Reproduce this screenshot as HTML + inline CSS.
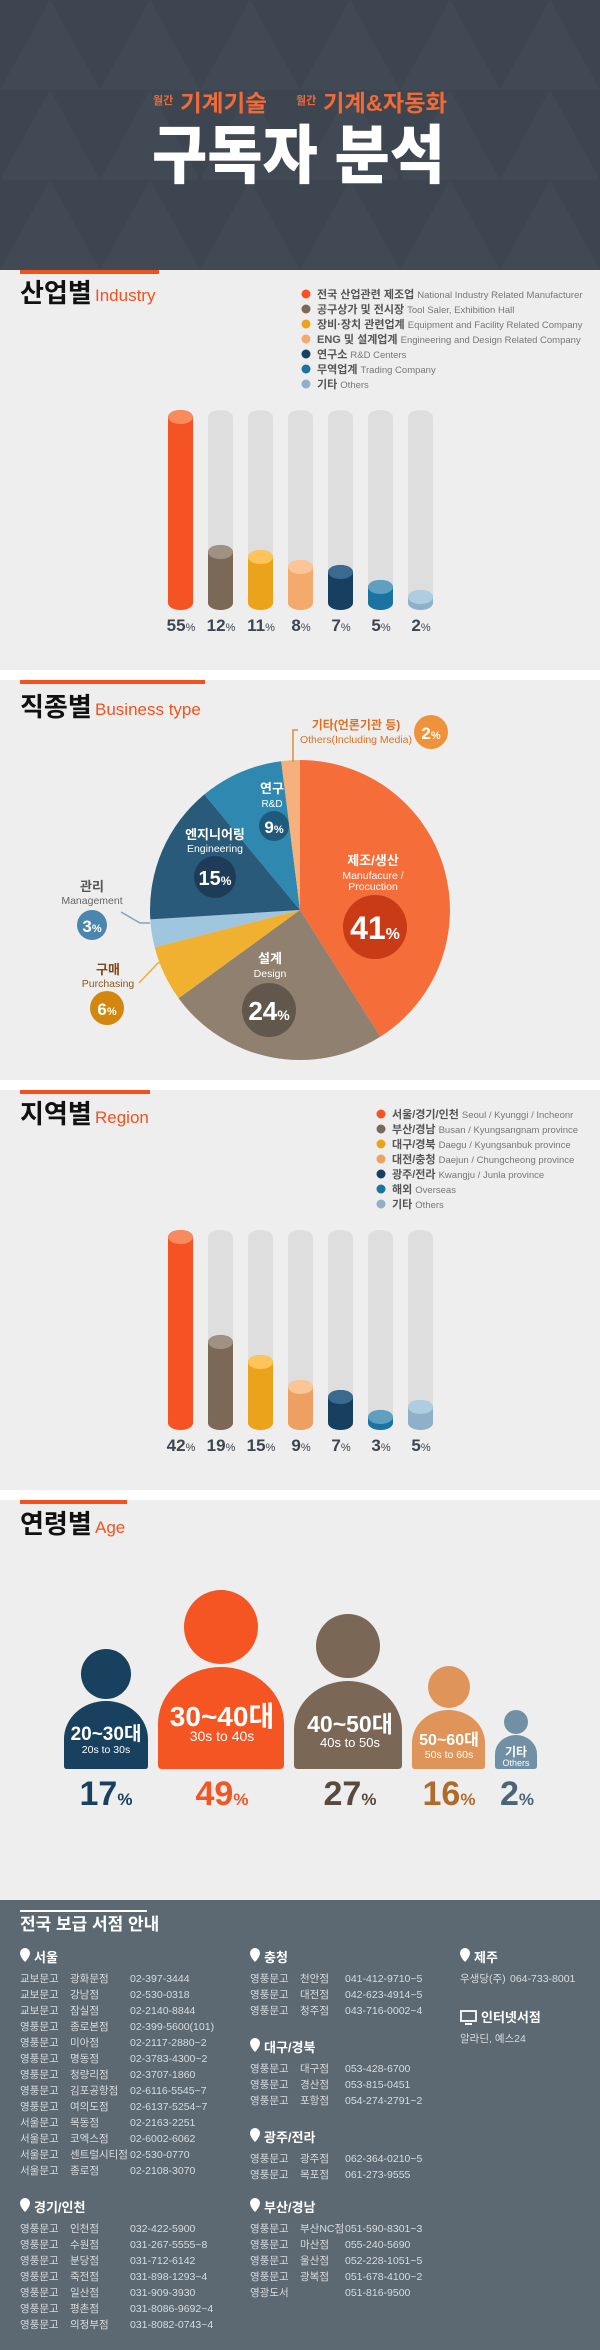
<!DOCTYPE html>
<html><head><meta charset="utf-8"><style>
html,body{margin:0;padding:0;background:#eee}
svg{display:block}
text{font-family:"Liberation Sans","Noto Sans CJK KR",sans-serif}
.n{font-family:"Liberation Sans Narrow","Liberation Sans","Noto Sans CJK KR",sans-serif;font-weight:bold}
</style></head><body>
<svg width="600" height="2350" viewBox="0 0 600 2350" xmlns="http://www.w3.org/2000/svg">
<defs>
<pattern id="tri" width="100" height="90" patternUnits="userSpaceOnUse">
<rect width="100" height="90" fill="#3d4550"/>
<polygon points="0,90 50,0 100,90" fill="#414954"/>
</pattern>
<path id="pin" d="M-5,0 a5,5 0 0 1 10,0 c0,4 -5,9 -5,9 c0,0 -5,-5 -5,-9z" fill="#fff"/>
</defs>
<!-- header -->
<rect x="0" y="0" width="600" height="270" fill="url(#tri)"/>
<text x="153" y="104" font-size="11" font-weight="bold" fill="#f26a35">월간</text>
<text x="180" y="111" font-size="23" font-weight="bold" fill="#f26a35" textLength="87" lengthAdjust="spacingAndGlyphs">기계기술</text>
<text x="296" y="104" font-size="11" font-weight="bold" fill="#f26a35">월간</text>
<text x="323" y="111" font-size="23" font-weight="bold" fill="#f26a35" textLength="124" lengthAdjust="spacingAndGlyphs">기계&amp;자동화</text>
<text x="152" y="178" font-size="64" font-weight="900" fill="#fff" textLength="293" lengthAdjust="spacingAndGlyphs">구독자 분석</text>

<!-- section 1 -->
<rect x="0" y="270" width="600" height="400" fill="#eee"/>
<rect x="20" y="270" width="139" height="4" fill="#f4511e"/>
<text x="20" y="302" font-size="26" font-weight="bold" fill="#111">산업별</text>
<text x="95" y="301" font-size="17" fill="#f4511e">Industry</text>
<g font-size="11">
<circle cx="306" cy="294" r="4.5" fill="#f55323"/><text x="317" y="298" font-weight="bold" fill="#555">전국 산업관련 제조업 <tspan font-weight="normal" font-size="9.5" fill="#777">National Industry Related Manufacturer</tspan></text>
<circle cx="306" cy="309" r="4.5" fill="#7b6856"/><text x="317" y="313" font-weight="bold" fill="#555">공구상가 및 전시장 <tspan font-weight="normal" font-size="9.5" fill="#777">Tool Saler, Exhibition Hall</tspan></text>
<circle cx="306" cy="324" r="4.5" fill="#eca31c"/><text x="317" y="328" font-weight="bold" fill="#555">장비·장치 관련업계 <tspan font-weight="normal" font-size="9.5" fill="#777">Equipment and Facility Related Company</tspan></text>
<circle cx="306" cy="339" r="4.5" fill="#f4a96d"/><text x="317" y="343" font-weight="bold" fill="#555">ENG 및 설계업계 <tspan font-weight="normal" font-size="9.5" fill="#777">Engineering and Design Related Company</tspan></text>
<circle cx="306" cy="354" r="4.5" fill="#163f60"/><text x="317" y="358" font-weight="bold" fill="#555">연구소 <tspan font-weight="normal" font-size="9.5" fill="#777">R&amp;D Centers</tspan></text>
<circle cx="306" cy="369" r="4.5" fill="#1a73a0"/><text x="317" y="373" font-weight="bold" fill="#555">무역업계 <tspan font-weight="normal" font-size="9.5" fill="#777">Trading Company</tspan></text>
<circle cx="306" cy="384" r="4.5" fill="#8fb0c8"/><text x="317" y="388" font-weight="bold" fill="#555">기타 <tspan font-weight="normal" font-size="9.5" fill="#777">Others</tspan></text>
</g>
<g>
<rect x="168" y="410" width="25" height="200" rx="12.5" ry="7" fill="#f55323"/><ellipse cx="180.5" cy="417" rx="12.5" ry="7" fill="#f88a5e"/>
<rect x="208" y="410" width="25" height="200" rx="12.5" ry="7" fill="#dedede"/><rect x="208" y="545" width="25" height="65" rx="12.5" ry="7" fill="#7b6856"/><ellipse cx="220.5" cy="552" rx="12.5" ry="7" fill="#a09283"/>
<rect x="248" y="410" width="25" height="200" rx="12.5" ry="7" fill="#dedede"/><rect x="248" y="550" width="25" height="60" rx="12.5" ry="7" fill="#eca31c"/><ellipse cx="260.5" cy="557" rx="12.5" ry="7" fill="#fdc45a"/>
<rect x="288" y="410" width="25" height="200" rx="12.5" ry="7" fill="#dedede"/><rect x="288" y="560" width="25" height="50" rx="12.5" ry="7" fill="#f4a96d"/><ellipse cx="300.5" cy="567" rx="12.5" ry="7" fill="#fcc595"/>
<rect x="328" y="410" width="25" height="200" rx="12.5" ry="7" fill="#dedede"/><rect x="328" y="565" width="25" height="45" rx="12.5" ry="7" fill="#163f60"/><ellipse cx="340.5" cy="572" rx="12.5" ry="7" fill="#3a6a90"/>
<rect x="368" y="410" width="25" height="200" rx="12.5" ry="7" fill="#dedede"/><rect x="368" y="580" width="25" height="30" rx="12.5" ry="7" fill="#1a73a0"/><ellipse cx="380.5" cy="587" rx="12.5" ry="7" fill="#5fa0c0"/>
<rect x="408" y="410" width="25" height="200" rx="12.5" ry="7" fill="#dedede"/><rect x="408" y="590" width="25" height="20" rx="12.5" ry="7" fill="#8fb0c8"/><ellipse cx="420.5" cy="597" rx="12.5" ry="7" fill="#aecde0"/>
</g>
<g class="n" font-size="17" fill="#3d4550" text-anchor="middle">
<text x="181" y="631">55<tspan font-size="11" font-weight="normal">%</tspan></text>
<text x="221" y="631">12<tspan font-size="11" font-weight="normal">%</tspan></text>
<text x="261" y="631">11<tspan font-size="11" font-weight="normal">%</tspan></text>
<text x="301" y="631">8<tspan font-size="11" font-weight="normal">%</tspan></text>
<text x="341" y="631">7<tspan font-size="11" font-weight="normal">%</tspan></text>
<text x="381" y="631">5<tspan font-size="11" font-weight="normal">%</tspan></text>
<text x="421" y="631">2<tspan font-size="11" font-weight="normal">%</tspan></text>
</g>
<rect x="0" y="670" width="600" height="10" fill="#fff"/>

<!-- section 2 -->
<rect x="0" y="680" width="600" height="400" fill="#eee"/>
<rect x="20" y="680" width="185" height="4" fill="#f4511e"/>
<text x="20" y="716" font-size="26" font-weight="bold" fill="#111">직종별</text>
<text x="95" y="715" font-size="17" fill="#f4511e">Business type</text>
<g transform="translate(300,910)">
<path d="M0,0 L0,-150 A150,150 0 0 1 80.4,126.6 Z" fill="#f56e3a"/>
<path d="M0,0 L80.4,126.6 A150,150 0 0 1 -121.4,88.2 Z" fill="#8f8070"/>
<path d="M0,0 L-121.4,88.2 A150,150 0 0 1 -145.3,37.3 Z" fill="#efb12f"/>
<path d="M0,0 L-145.3,37.3 A150,150 0 0 1 -149.7,9.4 Z" fill="#9fc5df"/>
<path d="M0,0 L-149.7,9.4 A150,150 0 0 1 -95.6,-115.6 Z" fill="#2a5a7a"/>
<path d="M0,0 L-95.6,-115.6 A150,150 0 0 1 -18.8,-148.8 Z" fill="#2e88b0"/>
<path d="M0,0 L-18.8,-148.8 A150,150 0 0 1 0,-150 Z" fill="#f6b07b"/>
</g>
<g text-anchor="middle">
<text x="373" y="865" font-size="13" font-weight="bold" fill="#fff">제조/생산</text>
<text x="373" y="879" font-size="10.5" fill="#fff">Manufacure /</text>
<text x="373" y="890" font-size="10.5" fill="#fff">Procuction</text>
<circle cx="375" cy="927" r="32" fill="#c93a17"/>
<text x="375" y="939" class="n" font-size="32" fill="#fff">41<tspan font-size="16">%</tspan></text>
<text x="270" y="963" font-size="13" font-weight="bold" fill="#fff">설계</text>
<text x="270" y="977" font-size="10.5" fill="#fff">Design</text>
<circle cx="269" cy="1010" r="27" fill="#62574c"/>
<text x="269" y="1020" class="n" font-size="26" fill="#fff">24<tspan font-size="14">%</tspan></text>
<text x="215" y="839" font-size="13" font-weight="bold" fill="#fff">엔지니어링</text>
<text x="215" y="852" font-size="10.5" fill="#fff">Engineering</text>
<circle cx="215" cy="877" r="21" fill="#1e3c58"/>
<text x="215" y="885" class="n" font-size="20" fill="#fff">15<tspan font-size="12">%</tspan></text>
<text x="272" y="793" font-size="13" font-weight="bold" fill="#fff">연구</text>
<text x="272" y="807" font-size="10" fill="#fff">R&amp;D</text>
<circle cx="274" cy="826" r="15" fill="#1f5a7c"/>
<text x="274" y="833" class="n" font-size="17" fill="#fff">9<tspan font-size="11">%</tspan></text>
<text x="92" y="891" font-size="13" font-weight="bold" fill="#555">관리</text>
<text x="92" y="904" font-size="10.5" fill="#666">Management</text>
<circle cx="92" cy="925" r="15" fill="#4a86ae"/>
<text x="92" y="932" class="n" font-size="17" fill="#fff">3<tspan font-size="11">%</tspan></text>
<text x="108" y="974" font-size="13" font-weight="bold" fill="#7a4a18">구매</text>
<text x="108" y="987" font-size="10.5" fill="#8a5a20">Purchasing</text>
<circle cx="107" cy="1008" r="17" fill="#d4870f"/>
<text x="107" y="1015" class="n" font-size="17" fill="#fff">6<tspan font-size="11">%</tspan></text>
<text x="356" y="729" font-size="12" font-weight="bold" fill="#e07020">기타(언론기관 등)</text>
<text x="356" y="743" font-size="10.5" fill="#e07020">Others(Including Media)</text>
<circle cx="431" cy="732" r="17" fill="#f0923a"/>
<text x="431" y="739" class="n" font-size="17" fill="#fff">2<tspan font-size="11">%</tspan></text>
</g>
<polyline points="121,912 140,923 150,923" fill="none" stroke="#7fa6c2" stroke-width="1.5"/>
<polyline points="139,983 158,963 165,962" fill="none" stroke="#efb12f" stroke-width="1.5"/>
<polyline points="293,762 293,730 298,730" fill="none" stroke="#e08a3a" stroke-width="1.5"/>
<rect x="0" y="1080" width="600" height="10" fill="#fff"/>

<!-- section 3 -->
<rect x="0" y="1090" width="600" height="400" fill="#eee"/>
<rect x="20" y="1090" width="130" height="4" fill="#f4511e"/>
<text x="20" y="1123" font-size="26" font-weight="bold" fill="#111">지역별</text>
<text x="95" y="1123" font-size="17" fill="#f4511e">Region</text>
<g font-size="11">
<circle cx="381" cy="1114" r="4.5" fill="#f55323"/><text x="392" y="1118" font-weight="bold" fill="#555">서울/경기/인천 <tspan font-weight="normal" font-size="9.5" fill="#777">Seoul / Kyunggi / Incheonr</tspan></text>
<circle cx="381" cy="1129" r="4.5" fill="#7b6856"/><text x="392" y="1133" font-weight="bold" fill="#555">부산/경남 <tspan font-weight="normal" font-size="9.5" fill="#777">Busan / Kyungsangnam province</tspan></text>
<circle cx="381" cy="1144" r="4.5" fill="#eca31c"/><text x="392" y="1148" font-weight="bold" fill="#555">대구/경북 <tspan font-weight="normal" font-size="9.5" fill="#777">Daegu / Kyungsanbuk province</tspan></text>
<circle cx="381" cy="1159" r="4.5" fill="#f0a060"/><text x="392" y="1163" font-weight="bold" fill="#555">대전/충청 <tspan font-weight="normal" font-size="9.5" fill="#777">Daejun / Chungcheong province</tspan></text>
<circle cx="381" cy="1174" r="4.5" fill="#163f60"/><text x="392" y="1178" font-weight="bold" fill="#555">광주/전라 <tspan font-weight="normal" font-size="9.5" fill="#777">Kwangju / Junla province</tspan></text>
<circle cx="381" cy="1189" r="4.5" fill="#1a73a0"/><text x="392" y="1193" font-weight="bold" fill="#555">해외 <tspan font-weight="normal" font-size="9.5" fill="#777">Overseas</tspan></text>
<circle cx="381" cy="1204" r="4.5" fill="#8fb0c8"/><text x="392" y="1208" font-weight="bold" fill="#555">기타 <tspan font-weight="normal" font-size="9.5" fill="#777">Others</tspan></text>
</g>
<g>
<rect x="168" y="1230" width="25" height="200" rx="12.5" ry="7" fill="#f55323"/><ellipse cx="180.5" cy="1237" rx="12.5" ry="7" fill="#f88a5e"/>
<rect x="208" y="1230" width="25" height="200" rx="12.5" ry="7" fill="#dedede"/><rect x="208" y="1335" width="25" height="95" rx="12.5" ry="7" fill="#7b6856"/><ellipse cx="220.5" cy="1342" rx="12.5" ry="7" fill="#a09283"/>
<rect x="248" y="1230" width="25" height="200" rx="12.5" ry="7" fill="#dedede"/><rect x="248" y="1355" width="25" height="75" rx="12.5" ry="7" fill="#eca31c"/><ellipse cx="260.5" cy="1362" rx="12.5" ry="7" fill="#fdc45a"/>
<rect x="288" y="1230" width="25" height="200" rx="12.5" ry="7" fill="#dedede"/><rect x="288" y="1380" width="25" height="50" rx="12.5" ry="7" fill="#eda062"/><ellipse cx="300.5" cy="1387" rx="12.5" ry="7" fill="#fcc595"/>
<rect x="328" y="1230" width="25" height="200" rx="12.5" ry="7" fill="#dedede"/><rect x="328" y="1390" width="25" height="40" rx="12.5" ry="7" fill="#163f60"/><ellipse cx="340.5" cy="1397" rx="12.5" ry="7" fill="#3a6a90"/>
<rect x="368" y="1230" width="25" height="200" rx="12.5" ry="7" fill="#dedede"/><rect x="368" y="1410" width="25" height="20" rx="12.5" ry="7" fill="#1a73a0"/><ellipse cx="380.5" cy="1417" rx="12.5" ry="7" fill="#5fa0c0"/>
<rect x="408" y="1230" width="25" height="200" rx="12.5" ry="7" fill="#dedede"/><rect x="408" y="1400" width="25" height="30" rx="12.5" ry="7" fill="#8fb0c8"/><ellipse cx="420.5" cy="1407" rx="12.5" ry="7" fill="#aecde0"/>
</g>
<g class="n" font-size="17" fill="#3d4550" text-anchor="middle">
<text x="181" y="1451">42<tspan font-size="11" font-weight="normal">%</tspan></text>
<text x="221" y="1451">19<tspan font-size="11" font-weight="normal">%</tspan></text>
<text x="261" y="1451">15<tspan font-size="11" font-weight="normal">%</tspan></text>
<text x="301" y="1451">9<tspan font-size="11" font-weight="normal">%</tspan></text>
<text x="341" y="1451">7<tspan font-size="11" font-weight="normal">%</tspan></text>
<text x="381" y="1451">3<tspan font-size="11" font-weight="normal">%</tspan></text>
<text x="421" y="1451">5<tspan font-size="11" font-weight="normal">%</tspan></text>
</g>
<rect x="0" y="1490" width="600" height="10" fill="#fff"/>

<!-- section 4 -->
<rect x="0" y="1500" width="600" height="400" fill="#eee"/>
<rect x="20" y="1500" width="107" height="4" fill="#f4511e"/>
<text x="20" y="1533" font-size="26" font-weight="bold" fill="#111">연령별</text>
<text x="95" y="1533" font-size="17" fill="#f4511e">Age</text>
<circle cx="106" cy="1674" r="25" fill="#18405f"/>
<path d="M64,1769 L64,1739 A42,38 0 0 1 148,1739 L148,1766 Q148,1769 145,1769 L67,1769 Q64,1769 64,1766 Z" fill="#18405f"/>
<circle cx="221" cy="1627" r="37" fill="#f55523"/>
<path d="M158,1769 L158,1724 A63,57 0 0 1 284,1724 L284,1765 Q284,1769 280,1769 L162,1769 Q158,1769 158,1765 Z" fill="#f55523"/>
<circle cx="348" cy="1646" r="32" fill="#7a6756"/>
<path d="M294,1769 L294,1730 A54,49 0 0 1 402,1730 L402,1765 Q402,1769 398,1769 L298,1769 Q294,1769 294,1765 Z" fill="#7a6756"/>
<circle cx="449" cy="1687" r="21" fill="#df955a"/>
<path d="M412,1769 L412,1743 A36.5,33 0 0 1 485,1743 L485,1766 Q485,1769 482,1769 L415,1769 Q412,1769 412,1766 Z" fill="#df955a"/>
<circle cx="516" cy="1722" r="12" fill="#7190a5"/>
<path d="M495,1769 L495,1754 A21,19 0 0 1 537,1754 L537,1766 Q537,1769 534,1769 L498,1769 Q495,1769 495,1766 Z" fill="#7190a5"/>
<g text-anchor="middle" fill="#fff">
<text x="106" y="1740" class="n" font-size="19">20~30대</text>
<text x="106" y="1753" font-size="10.5">20s to 30s</text>
<text x="222" y="1726" class="n" font-size="28">30~40대</text>
<text x="222" y="1741" font-size="14">30s to 40s</text>
<text x="350" y="1732" class="n" font-size="23">40~50대</text>
<text x="350" y="1747" font-size="13">40s to 50s</text>
<text x="449" y="1745" class="n" font-size="16">50~60대</text>
<text x="449" y="1758" font-size="10.5">50s to 60s</text>
<text x="516" y="1756" class="n" font-size="12">기타</text>
<text x="516" y="1766" font-size="9">Others</text>
</g>
<g class="n" font-size="34" text-anchor="middle">
<text x="106" y="1805" fill="#18405f">17<tspan font-size="17">%</tspan></text>
<text x="222" y="1805" fill="#f55523">49<tspan font-size="17">%</tspan></text>
<text x="350" y="1805" fill="#5a4a3e">27<tspan font-size="17">%</tspan></text>
<text x="449" y="1805" fill="#b06a2a">16<tspan font-size="17">%</tspan></text>
<text x="517" y="1805" fill="#4a6478">2<tspan font-size="17">%</tspan></text>
</g>

<!-- footer -->
<rect x="0" y="1900" width="600" height="450" fill="#5c6872"/>
<rect x="20" y="1910" width="127" height="2" fill="#fff"/>
<text x="20" y="1930" font-size="17" font-weight="bold" fill="#fff">전국 보급 서점 안내</text>
<g font-size="13" font-weight="bold" fill="#fff">
<text x="34" y="1962">서울</text><text x="264" y="1962">충청</text><text x="474" y="1962">제주</text>
<text x="264" y="2052">대구/경북</text><text x="264" y="2142">광주/전라</text>
<text x="34" y="2212">경기/인천</text><text x="264" y="2212">부산/경남</text>
<text x="481" y="2022">인터넷서점</text>
</g>
<use href="#pin" x="25" y="1953"/><use href="#pin" x="255" y="1953"/><use href="#pin" x="465" y="1953"/>
<use href="#pin" x="255" y="2043"/><use href="#pin" x="255" y="2133"/>
<use href="#pin" x="25" y="2203"/><use href="#pin" x="255" y="2203"/>
<rect x="461" y="2011" width="15" height="10" fill="none" stroke="#fff" stroke-width="1.8"/>
<rect x="465" y="2023" width="7" height="2" fill="#fff"/>
<g font-size="10.5" fill="#d8dde0">
<text x="20" y="1982">교보문고</text><text x="70" y="1982">광화문점</text><text x="130" y="1982">02-397-3444</text>
<text x="20" y="1998">교보문고</text><text x="70" y="1998">강남점</text><text x="130" y="1998">02-530-0318</text>
<text x="20" y="2014">교보문고</text><text x="70" y="2014">잠실점</text><text x="130" y="2014">02-2140-8844</text>
<text x="20" y="2030">영풍문고</text><text x="70" y="2030">종로본점</text><text x="130" y="2030">02-399-5600(101)</text>
<text x="20" y="2046">영풍문고</text><text x="70" y="2046">미아점</text><text x="130" y="2046">02-2117-2880~2</text>
<text x="20" y="2062">영풍문고</text><text x="70" y="2062">명동점</text><text x="130" y="2062">02-3783-4300~2</text>
<text x="20" y="2078">영풍문고</text><text x="70" y="2078">청량리점</text><text x="130" y="2078">02-3707-1860</text>
<text x="20" y="2094">영풍문고</text><text x="70" y="2094">김포공항점</text><text x="130" y="2094">02-6116-5545~7</text>
<text x="20" y="2110">영풍문고</text><text x="70" y="2110">여의도점</text><text x="130" y="2110">02-6137-5254~7</text>
<text x="20" y="2126">서울문고</text><text x="70" y="2126">목동점</text><text x="130" y="2126">02-2163-2251</text>
<text x="20" y="2142">서울문고</text><text x="70" y="2142">코엑스점</text><text x="130" y="2142">02-6002-6062</text>
<text x="20" y="2158">서울문고</text><text x="70" y="2158">센트럴시티점</text><text x="130" y="2158">02-530-0770</text>
<text x="20" y="2174">서울문고</text><text x="70" y="2174">종로점</text><text x="130" y="2174">02-2108-3070</text>

<text x="20" y="2232">영풍문고</text><text x="70" y="2232">인천점</text><text x="130" y="2232">032-422-5900</text>
<text x="20" y="2248">영풍문고</text><text x="70" y="2248">수원점</text><text x="130" y="2248">031-267-5555~8</text>
<text x="20" y="2264">영풍문고</text><text x="70" y="2264">분당점</text><text x="130" y="2264">031-712-6142</text>
<text x="20" y="2280">영풍문고</text><text x="70" y="2280">죽전점</text><text x="130" y="2280">031-898-1293~4</text>
<text x="20" y="2296">영풍문고</text><text x="70" y="2296">일산점</text><text x="130" y="2296">031-909-3930</text>
<text x="20" y="2312">영풍문고</text><text x="70" y="2312">평촌점</text><text x="130" y="2312">031-8086-9692~4</text>
<text x="20" y="2328">영풍문고</text><text x="70" y="2328">의정부점</text><text x="130" y="2328">031-8082-0743~4</text>

<text x="250" y="1982">영풍문고</text><text x="300" y="1982">천안점</text><text x="345" y="1982">041-412-9710~5</text>
<text x="250" y="1998">영풍문고</text><text x="300" y="1998">대전점</text><text x="345" y="1998">042-623-4914~5</text>
<text x="250" y="2014">영풍문고</text><text x="300" y="2014">청주점</text><text x="345" y="2014">043-716-0002~4</text>
<text x="250" y="2072">영풍문고</text><text x="300" y="2072">대구점</text><text x="345" y="2072">053-428-6700</text>
<text x="250" y="2088">영풍문고</text><text x="300" y="2088">경산점</text><text x="345" y="2088">053-815-0451</text>
<text x="250" y="2104">영풍문고</text><text x="300" y="2104">포항점</text><text x="345" y="2104">054-274-2791~2</text>
<text x="250" y="2162">영풍문고</text><text x="300" y="2162">광주점</text><text x="345" y="2162">062-364-0210~5</text>
<text x="250" y="2178">영풍문고</text><text x="300" y="2178">목포점</text><text x="345" y="2178">061-273-9555</text>
<text x="250" y="2232">영풍문고</text><text x="300" y="2232">부산NC점</text><text x="345" y="2232">051-590-8301~3</text>
<text x="250" y="2248">영풍문고</text><text x="300" y="2248">마산점</text><text x="345" y="2248">055-240-5690</text>
<text x="250" y="2264">영풍문고</text><text x="300" y="2264">울산점</text><text x="345" y="2264">052-228-1051~5</text>
<text x="250" y="2280">영풍문고</text><text x="300" y="2280">광복점</text><text x="345" y="2280">051-678-4100~2</text>
<text x="250" y="2296">영광도서</text><text x="345" y="2296">051-816-9500</text>

<text x="460" y="1982">우생당(주)</text><text x="510" y="1982">064-733-8001</text>
<text x="460" y="2042">알라딘, 예스24</text>
</g>
</svg>
</body></html>
